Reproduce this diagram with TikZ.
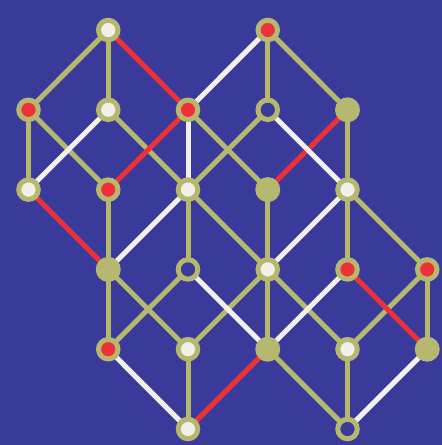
\documentclass[tikz,border=0pt]{standalone}
\usetikzlibrary{backgrounds}
\definecolor{bgblue}{RGB}{58,58,155}
\definecolor{olive}{RGB}{182,184,112}
\definecolor{dotred}{RGB}{236,50,56}
\definecolor{dotwhite}{RGB}{242,240,232}
\begin{document}
\begin{tikzpicture}[x=1pt,y=-1pt,
  dot/.style={circle,draw=olive,line width=5pt,minimum size=19.5pt,inner sep=0pt},
  wdot/.style={dot,fill=dotwhite},
  rdot/.style={dot,fill=dotred},
  hdot/.style={dot,fill=bgblue},
  odot/.style={circle,fill=olive,minimum size=25pt,inner sep=0pt},
  oe/.style={draw=olive,line width=5pt},
  re/.style={draw=dotred,line width=5pt},
  we/.style={draw=dotwhite,line width=5pt}]
\useasboundingbox (0,0) rectangle (442,445);
\def\cx#1{28.5+79.75*#1}
\def\ry#1{30+79.8*#1}
\node[wdot] (A) at ({\cx{1}},{\ry{0}}) {};
\node[rdot] (B) at ({\cx{3}},{\ry{0}}) {};
\node[rdot] (C) at ({\cx{0}},{\ry{1}}) {};
\node[wdot] (D) at ({\cx{1}},{\ry{1}}) {};
\node[rdot] (E) at ({\cx{2}},{\ry{1}}) {};
\node[hdot] (F) at ({\cx{3}},{\ry{1}}) {};
\node[odot] (G) at ({\cx{4}},{\ry{1}}) {};
\node[wdot] (H) at ({\cx{0}},{\ry{2}}) {};
\node[rdot] (I) at ({\cx{1}},{\ry{2}}) {};
\node[wdot] (J) at ({\cx{2}},{\ry{2}}) {};
\node[odot] (K) at ({\cx{3}},{\ry{2}}) {};
\node[wdot] (L) at ({\cx{4}},{\ry{2}}) {};
\node[odot] (M) at ({\cx{1}},{\ry{3}}) {};
\node[hdot] (N) at ({\cx{2}},{\ry{3}}) {};
\node[wdot] (O) at ({\cx{3}},{\ry{3}}) {};
\node[rdot] (P) at ({\cx{4}},{\ry{3}}) {};
\node[rdot] (Q) at ({\cx{5}},{\ry{3}}) {};
\node[rdot] (R) at ({\cx{1}},{\ry{4}}) {};
\node[wdot] (S) at ({\cx{2}},{\ry{4}}) {};
\node[odot] (T) at ({\cx{3}},{\ry{4}}) {};
\node[wdot] (U) at ({\cx{4}},{\ry{4}}) {};
\node[odot] (V) at ({\cx{5}},{\ry{4}}) {};
\node[wdot] (W) at ({\cx{2}},{\ry{5}}) {};
\node[hdot] (X) at ({\cx{4}},{\ry{5}}) {};
\begin{scope}[on background layer]
\fill[bgblue] (0,0) rectangle (442,445);
\foreach \a/\b in {A/C,A/D,C/H,C/I,D/J,E/K,I/M,J/N,J/O,J/F,F/B,B/G,G/L,K/O,L/Q,L/P,M/R,M/S,N/R,S/O,O/T,S/W,T/X,O/U,U/Q,Q/V,U/X}
  \path[oe] (\a.center) -- (\b.center);
\foreach \a/\b in {A/E,E/I,H/M,G/K,T/W,P/V}
  \path[re] (\a.center) -- (\b.center);
\foreach \a/\b in {D/H,E/J,E/B,M/J,F/L,L/O,N/T,R/W,T/P,V/X}
  \path[we] (\a.center) -- (\b.center);
\end{scope}
\end{tikzpicture}
\end{document}
